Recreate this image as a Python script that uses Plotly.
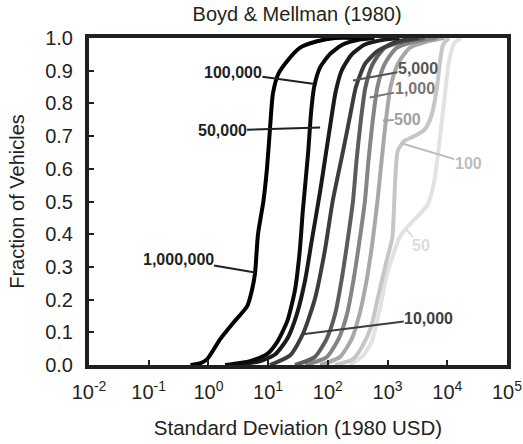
import plotly.graph_objects as go

# Cumulative distributions of the standard deviation of vehicle prices (1980 USD),
# one curve per simulated fleet size. x values are stored as log10(USD).
labels = ["50", "100", "500", "1,000", "5,000", "10,000", "50,000", "100,000", "1,000,000"]
colors = ["#e2e2e2", "#c6c6c6", "#a8a8a8", "#858585", "#5c5c5c", "#3d3d3d", "#1a1a1a", "#0a0a0a", "#000000"]

log_sd = {
    "1,000,000": [-0.30, -0.13, -0.02, 0.20, 0.42, 0.65, 0.73, 0.78, 0.83, 0.92, 0.98, 1.03, 1.08, 1.17, 1.32, 1.53, 1.82, 2.12, 2.53],
    "100,000": [0.28, 0.70, 0.98, 1.15, 1.32, 1.45, 1.53, 1.58, 1.67, 1.72, 1.77, 1.87, 2.03, 2.25, 2.53, 2.78],
    "50,000": [0.45, 0.87, 1.12, 1.32, 1.48, 1.62, 1.73, 1.87, 1.97, 2.05, 2.13, 2.23, 2.40, 2.62, 2.95, 3.20],
    "10,000": [1.03, 1.37, 1.58, 1.78, 1.95, 2.08, 2.25, 2.37, 2.47, 2.62, 2.83, 3.17, 3.53],
    "5,000": [1.45, 1.78, 1.98, 2.12, 2.23, 2.33, 2.42, 2.48, 2.55, 2.63, 2.75, 2.95, 3.28, 3.62],
    "1,000": [1.62, 1.98, 2.18, 2.32, 2.43, 2.53, 2.62, 2.68, 2.75, 2.83, 2.95, 3.15, 3.48, 3.82],
    "500": [1.87, 2.20, 2.40, 2.53, 2.65, 2.75, 2.83, 2.90, 2.97, 3.05, 3.17, 3.37, 3.67, 3.95],
    "100": [2.12, 2.42, 2.58, 2.73, 2.83, 2.92, 3.00, 3.08, 3.17, 3.28, 3.45, 3.62, 3.73, 3.82, 3.88, 3.93, 4.03],
    "50": [2.37, 2.58, 2.73, 2.87, 2.98, 3.08, 3.20, 3.32, 3.48, 3.67, 3.78, 3.87, 3.95, 4.03, 4.12, 4.23],
}
fraction = {
    "1,000,000": [0, 0.006, 0.018, 0.08, 0.13, 0.18, 0.23, 0.28, 0.40, 0.50, 0.60, 0.72, 0.83, 0.89, 0.93, 0.97, 0.99, 1.0, 1.0],
    "100,000": [0, 0.012, 0.033, 0.07, 0.134, 0.23, 0.35, 0.47, 0.65, 0.775, 0.85, 0.91, 0.95, 0.98, 0.995, 1.0],
    "50,000": [0, 0.012, 0.033, 0.08, 0.155, 0.26, 0.38, 0.53, 0.65, 0.745, 0.835, 0.90, 0.95, 0.98, 0.995, 1.0],
    "10,000": [0, 0.03, 0.094, 0.20, 0.35, 0.50, 0.65, 0.76, 0.85, 0.92, 0.96, 0.99, 1.0],
    "5,000": [0, 0.024, 0.08, 0.155, 0.26, 0.38, 0.50, 0.625, 0.745, 0.85, 0.92, 0.97, 0.99, 1.0],
    "1,000": [0, 0.024, 0.08, 0.155, 0.26, 0.38, 0.50, 0.625, 0.745, 0.85, 0.92, 0.97, 0.99, 1.0],
    "500": [0, 0.024, 0.08, 0.155, 0.26, 0.38, 0.50, 0.625, 0.745, 0.85, 0.92, 0.97, 0.99, 1.0],
    "100": [0, 0.018, 0.058, 0.12, 0.20, 0.27, 0.33, 0.39, 0.655, 0.685, 0.70, 0.72, 0.76, 0.84, 0.93, 0.98, 1.0],
    "50": [0, 0.027, 0.07, 0.17, 0.27, 0.33, 0.39, 0.42, 0.45, 0.49, 0.56, 0.685, 0.81, 0.93, 0.985, 1.0],
}

# Curve labels: (log10 x of the point the leader touches, fraction, text offset px, offset py, text colour)
label_points = {
    "100,000": (1.75, 0.86, -80, -11, "#231f20"),
    "50,000": (1.87, 0.726, -98, 3, "#231f20"),
    "1,000,000": (0.78, 0.283, -77, -13, "#231f20"),
    "5,000": (2.42, 0.87, 65, -12, "#555555"),
    "1,000": (2.70, 0.818, 45, -9, "#777777"),
    "500": (2.92, 0.748, 25, -1, "#a0a0a0"),
    "100": (3.23, 0.678, 67, 20, "#bdbdbd"),
    "50": (3.32, 0.413, 14, 16, "#dcdcdc"),
    "10,000": (1.58, 0.094, 126, -16, "#3d3d3d"),
}

x_tick_exp = [-2, -1, 0, 1, 2, 3, 4, 5]
font_family = "Liberation Sans, Arial, sans-serif"

fig = go.Figure()
for name, col in zip(labels, colors):
    fig.add_trace(go.Scatter(
        x=[10 ** v for v in log_sd[name]], y=fraction[name],
        mode="lines", line=dict(color=col, width=4, shape="spline", smoothing=0.6),
        name=name, showlegend=False, hoverinfo="skip",
    ))

for name, (lx, fy, ox, oy, tc) in label_points.items():
    fig.add_annotation(
        x=lx, y=fy, xref="x", yref="y", text=f"<b>{name}</b>",
        showarrow=True, arrowhead=0, arrowwidth=2, arrowcolor=tc, standoff=0,
        ax=ox, ay=oy, font=dict(size=16, color=tc, family=font_family),
        borderpad=0,
    )

axis_color = "#231f20"
fig.update_layout(
    width=523, height=444,
    margin=dict(l=89, r=16, t=38, b=79),
    paper_bgcolor="white", plot_bgcolor="white",
    font=dict(family=font_family, color=axis_color, size=20),
    title=dict(text="Boyd & Mellman (1980)", x=0.568, xanchor="center", y=0.985, yanchor="top",
               font=dict(size=20, color=axis_color)),
    xaxis=dict(
        type="log", range=[-2, 5], automargin=False,
        tickvals=[10 ** e for e in x_tick_exp],
        ticktext=[f"10<sup>{e}</sup>" for e in x_tick_exp],
        ticks="inside", ticklen=5, tickwidth=2, tickcolor=axis_color,
        ticklabelstandoff=6,
        showline=True, linewidth=4, linecolor=axis_color, mirror=True,
        showgrid=False, zeroline=False,
        title=dict(text="Standard Deviation (1980 USD)", standoff=20, font=dict(size=20.5)),
        tickfont=dict(size=20),
    ),
    yaxis=dict(
        range=[0, 1], tickvals=[i / 10 for i in range(11)], tickformat=".1f",
        automargin=False,
        ticks="inside", ticklen=5, tickwidth=2, tickcolor=axis_color,
        ticklabelstandoff=8,
        showline=True, linewidth=4, linecolor=axis_color, mirror=True,
        showgrid=False, zeroline=False,
        title=dict(text="Fraction of Vehicles", standoff=16, font=dict(size=20)),
        tickfont=dict(size=20),
    ),
)

fig.write_html("out.html")
